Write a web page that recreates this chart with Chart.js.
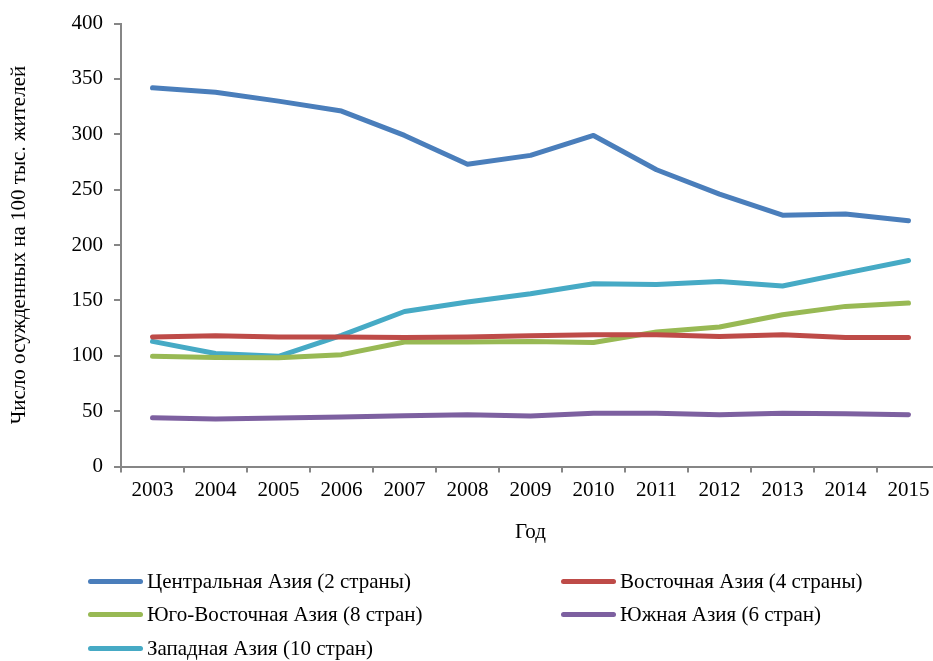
<!DOCTYPE html>
<html>
<head>
<meta charset="utf-8">
<script src="https://cdn.jsdelivr.net/npm/chart.js@4"></script>
<style>
    html, body { margin: 0; padding: 0; background: #fff; overflow: hidden; }
    #wrap { position: relative; width: 933px; height: 661px; overflow: hidden; }
    #box { position: absolute; left: 0; top: 0; width: 950px; height: 560px; }
    #legend { position: absolute; left: 0; top: 0; width: 933px; height: 661px; pointer-events: none;
        font-family: 'Liberation Serif', 'Times New Roman', serif; font-size: 21px; color: #000; }
    .item { position: absolute; white-space: nowrap; line-height: 22px; }
    .swatch { position: absolute; height: 5px; border-radius: 3px; }
</style>
</head>
<body>
<div id="wrap">
    <div id="box"><canvas id="chart"></canvas></div>
    <div id="legend"></div>
</div>
<script>
// Chart data
const years = ['2003', '2004', '2005', '2006', '2007', '2008', '2009', '2010', '2011', '2012', '2013', '2014', '2015'];
const centralAsia = [342, 338, 330, 321, 299, 273, 281, 299, 268, 246, 227, 228, 222];
const eastAsia = [117, 118, 117, 117, 116.5, 117, 118, 119, 119, 117.5, 119, 116.5, 116.5];
const southEastAsia = [99.5, 98.5, 98.3, 101, 112.4, 112.5, 113, 112, 121.4, 126, 137, 144.6, 147.6];
const southAsia = [44, 42.8, 43.7, 44.6, 45.8, 46.7, 45.5, 48.2, 48.2, 46.7, 48.2, 47.6, 46.7];
const westAsia = [113, 102, 99.5, 118.5, 140, 148.5, 156, 165, 164.4, 167, 163, 174.6, 186];
const yTicks = [0, 50, 100, 150, 200, 250, 300, 350, 400];

const serif = "'Liberation Serif', 'Times New Roman', serif";
const axisGray = '#868686';

const seriesList = [
    { label: 'Центральная Азия (2 страны)', data: centralAsia, color: '#4a7ebb' },
    { label: 'Восточная Азия (4 страны)', data: eastAsia, color: '#be4b48' },
    { label: 'Юго-Восточная Азия (8 стран)', data: southEastAsia, color: '#98b954' },
    { label: 'Южная Азия (6 стран)', data: southAsia, color: '#7d60a0' },
    { label: 'Западная Азия (10 стран)', data: westAsia, color: '#46aac5' }
];

const chart = new Chart(document.getElementById('chart'), {
    type: 'line',
    data: {
        labels: years,
        datasets: seriesList.map(s => ({
            label: s.label,
            data: s.data,
            borderColor: s.color,
            backgroundColor: s.color,
            borderWidth: 5,
            borderCapStyle: 'round',
            borderJoinStyle: 'round',
            pointRadius: 0,
            tension: 0,
            fill: false
        }))
    },
    options: {
        responsive: true,
        maintainAspectRatio: false,
        animation: false,
        layout: { padding: { top: 22.5, right: 10, left: 0, bottom: 0 } },
        plugins: {
            legend: { display: false },
            tooltip: { enabled: false }
        },
        scales: {
            x: {
                offset: true,
                border: { color: axisGray, width: 2 },
                grid: { offset: true, drawOnChartArea: false, drawTicks: true, tickLength: 6, color: axisGray, lineWidth: 2 },
                ticks: { color: '#000', padding: 5, maxRotation: 0, autoSkip: false, font: { family: serif, size: 21 } },
                title: { display: true, text: 'Год', color: '#000', padding: { top: 4, bottom: 15 }, font: { family: serif, size: 21 } },
                afterFit: function(scale) { scale.height = 93.5; }
            },
            y: {
                min: 0,
                max: 400,
                border: { color: axisGray, width: 2 },
                grid: { drawOnChartArea: false, drawTicks: true, tickLength: 7, color: axisGray, lineWidth: 2 },
                afterBuildTicks: function(scale) { scale.ticks = yTicks.map(v => ({ value: v })); },
                ticks: { color: '#000', padding: 11, font: { family: serif, size: 21 } },
                title: { display: true, text: 'Число осужденных на 100 тыс. жителей', color: '#000', padding: { top: 7, bottom: 4 }, font: { family: serif, size: 21 } },
                afterFit: function(scale) { scale.width = 121; }
            }
        }
    }
});

// Two-column legend under the chart
const legendSpots = [
    { sx: 88, tx: 147, y: 581 },
    { sx: 561, tx: 620, y: 581 },
    { sx: 88, tx: 147, y: 614 },
    { sx: 561, tx: 620, y: 614 },
    { sx: 88, tx: 147, y: 648 }
];
const legend = document.getElementById('legend');
chart.data.datasets.forEach((ds, i) => {
    const spot = legendSpots[i];
    const sw = document.createElement('div');
    sw.className = 'swatch';
    sw.style.left = spot.sx + 'px';
    sw.style.width = '55px';
    sw.style.top = (spot.y - 2.5) + 'px';
    sw.style.background = ds.borderColor;
    legend.appendChild(sw);
    const txt = document.createElement('div');
    txt.className = 'item';
    txt.style.left = spot.tx + 'px';
    txt.style.top = (spot.y - 11) + 'px';
    txt.textContent = ds.label;
    legend.appendChild(txt);
});
</script>
</body>
</html>
